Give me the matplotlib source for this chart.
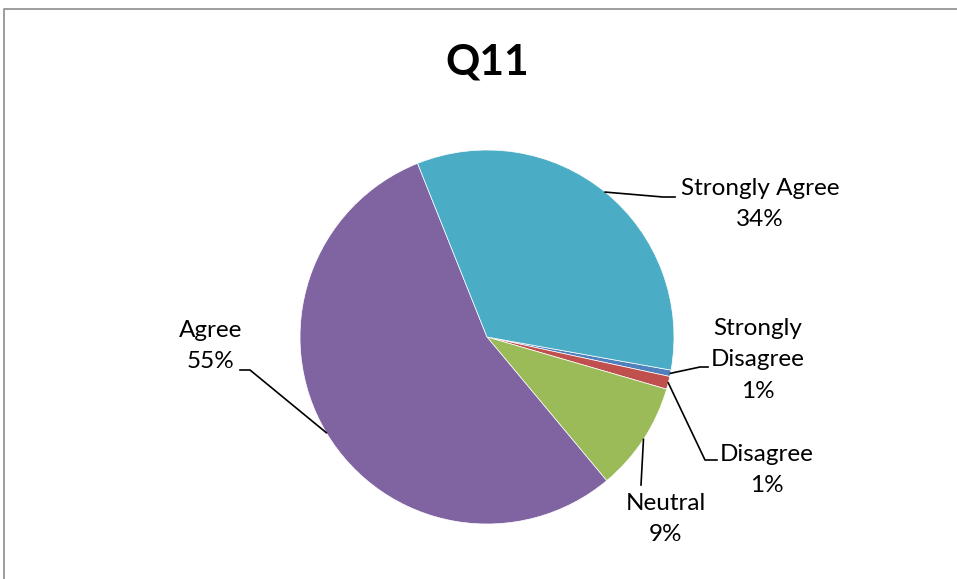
import numpy as np
import matplotlib.pyplot as plt
from matplotlib.lines import Line2D

# ---------------------------------------
# Data
# ---------------------------------------

categories = ["Strongly Disagree", "Disagree", "Neutral", "Agree", "Strongly Agree"]
responses = [1, 2, 17, 99, 61]
colors = ["#4F81BD", "#C0504D", "#9BBB59", "#8064A2", "#4BACC6"]

label_text = {
    "Strongly Disagree": "Strongly\nDisagree",
    "Disagree": "Disagree",
    "Neutral": "Neutral",
    "Agree": "Agree",
    "Strongly Agree": "Strongly Agree",
}

# label centre, leader elbow, leader end (pixel coords, y from top)
label_layout = {
    "Strongly Agree": ((760, 204), (663, 197), (675, 197)),
    "Strongly Disagree": ((758, 360), (700, 367), (708, 367)),
    "Disagree": ((767, 470), (705, 460), (717, 460)),
    "Neutral": ((666, 519), (641, 485), (641, 485)),
    "Agree": ((211, 346), (250, 370), (240, 370)),
}

W, H = 957, 579
center_px = (487, 337)
radius = 187
first_angle = 100.2  # degrees clockwise from 12 o'clock

plt.rcParams["font.family"] = ["Lato", "DejaVu Sans"]

fig = plt.figure(figsize=(W / 100, H / 100), dpi=100)
ax = fig.add_axes([0, 0, 1, 1])

cx, cy = center_px[0], H - center_px[1]

wedges, _ = ax.pie(
    responses,
    colors=colors,
    startangle=90 - first_angle,
    counterclock=False,
    center=(cx, cy),
    radius=radius,
    wedgeprops=dict(edgecolor="white", linewidth=0.5),
)

ax.set_xlim(0, W)
ax.set_ylim(0, H)
ax.set_aspect("equal")
ax.axis("off")

# ---------------------------------------
# Labels with leader lines
# ---------------------------------------

total = sum(responses)

for name, w in zip(categories, wedges):
    pct = int(responses[categories.index(name)] / total * 100 + 0.5)
    (lx, ly), (ex, ey), (tx, ty) = label_layout[name]

    mid = np.deg2rad((w.theta1 + w.theta2) / 2)
    sx = cx + radius * np.cos(mid)
    sy = cy + radius * np.sin(mid)

    ax.plot(
        [sx, ex, tx],
        [sy, H - ey, H - ty],
        color="black",
        linewidth=1.2,
        solid_joinstyle="miter",
    )

    ax.text(
        lx, H - ly,
        f"{label_text[name]}\n{pct}%",
        ha="center",
        va="center",
        multialignment="center",
        fontsize=17.5,
        linespacing=1.6,
    )

# ---------------------------------------
# Title and frame
# ---------------------------------------

ax.text(487, H - 62, "Q11", ha="center", va="center",
        fontsize=30.5, fontweight="bold")

fig.add_artist(Line2D(
    [3.5 / W, 3.5 / W, 1.0],
    [0.0, 1 - 8.5 / H, 1 - 8.5 / H],
    transform=fig.transFigure,
    color="#8c8c8c",
    linewidth=1.2,
))

plt.savefig("out.png", dpi=100)
